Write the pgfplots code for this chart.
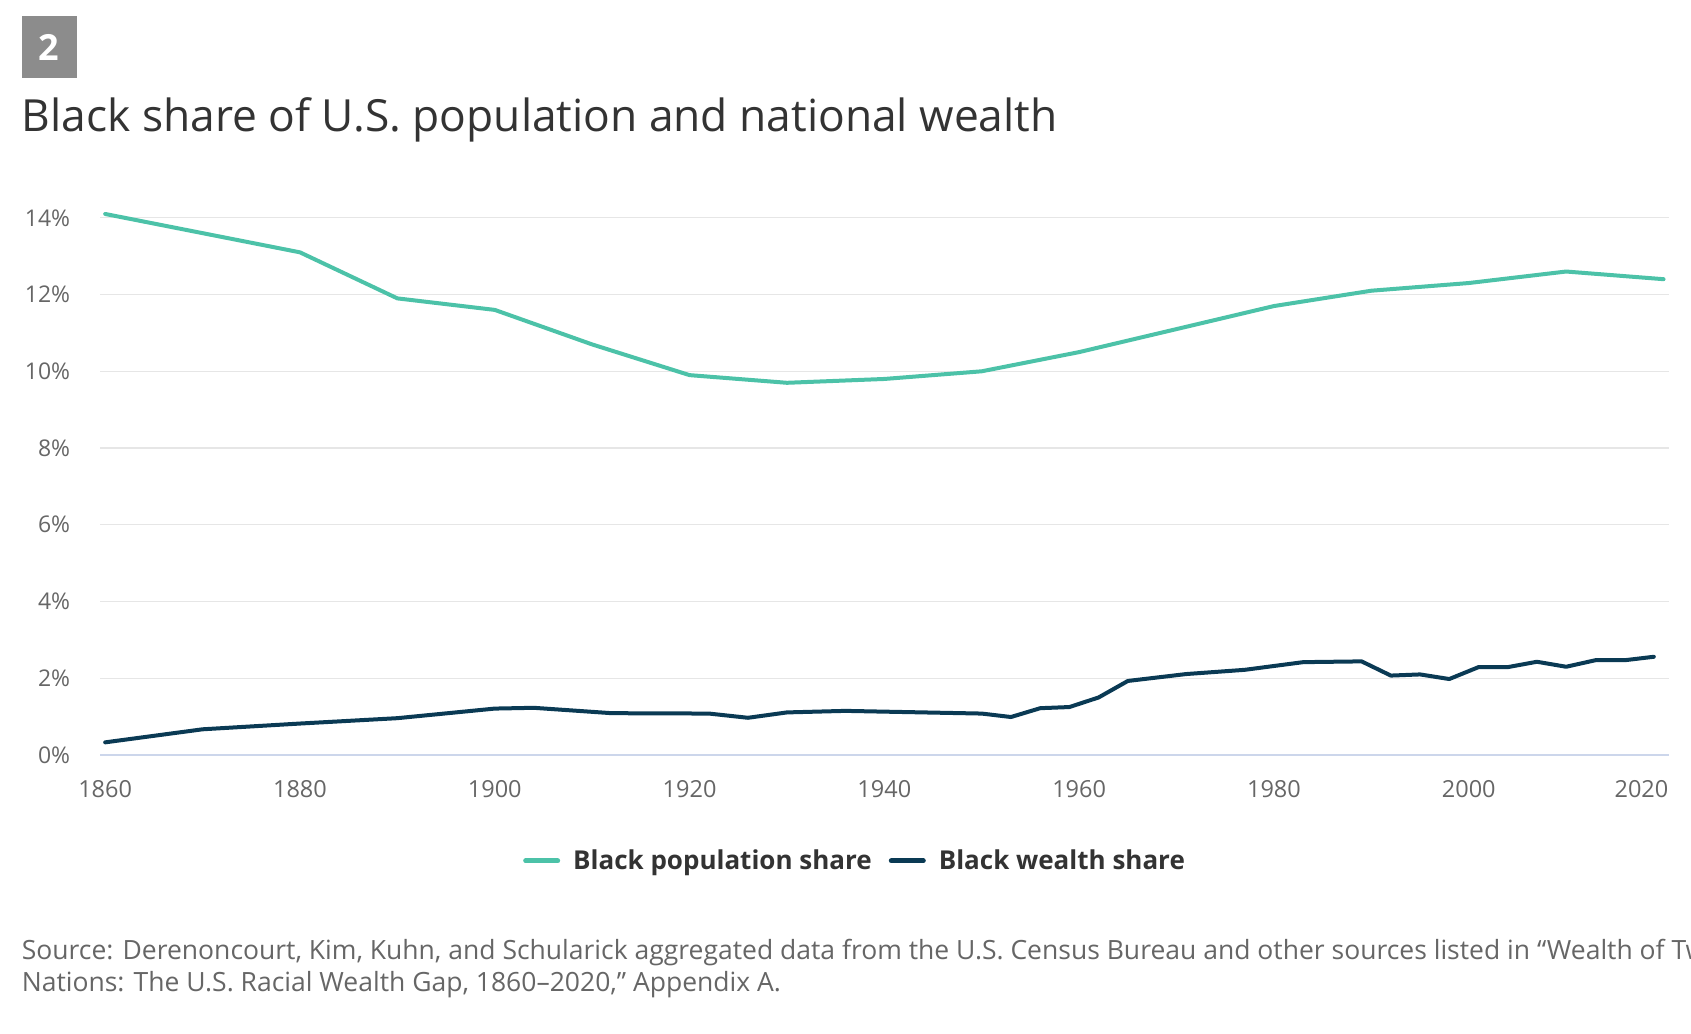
\documentclass[border=0pt]{standalone}
\usepackage{fontspec}
\setmainfont{Open Sans}
\usepackage{pgfplots}
\pgfplotsset{compat=1.18}
\definecolor{popc}{HTML}{4CC2A8}
\definecolor{wealthc}{HTML}{0A3A54}
\definecolor{boxgrey}{HTML}{8C8C8C}
\definecolor{titlec}{HTML}{333333}
\definecolor{labc}{HTML}{666666}
\definecolor{srcc}{HTML}{666666}
\definecolor{gridc}{HTML}{E6E6E6}
\definecolor{axisc}{HTML}{CCD6EB}
\begin{document}
\begin{tikzpicture}[x=1pt,y=1pt]
\path[use as bounding box] (0,0) rectangle (1691,-1033);
\fill[boxgrey] (21.6,-16.2) rectangle (76.6,-77.6);
\node[text=white, inner sep=0, font=\bfseries\fontsize{36}{36}\selectfont] at (49.1,-47) {2};
\node[anchor=base west, inner sep=0, text=titlec, font=\fontsize{44.3}{44.3}\selectfont] at (21.6,-131.6) {Black share of U.S. population and national wealth};
\begin{axis}[
  at={(100.3pt,-755pt)}, anchor=south west,
  scale only axis, width=1569.1pt, height=537.2pt,
  xmin=1859.5, xmax=2020.6, ymin=0, ymax=14,
  clip=false,
  axis lines*=left,
  x axis line style={draw=axisc, line width=1.2pt, -},
  y axis line style={draw=none},
  tick style={draw=none},
  major tick length=0pt,
  ytick={0,2,4,6,8,10,12,14},
  yticklabels={0\%,2\%,4\%,6\%,8\%,10\%,12\%,14\%},
  xtick={1860,1880,1900,1920,1940,1960,1980,2000},
  xticklabels={1860,1880,1900,1920,1940,1960,1980,2000},
  extra x ticks={2020},
  extra x tick labels={2020},
  extra x tick style={xticklabel style={anchor=north east, xshift=5pt}},
  ymajorgrids,
  major grid style={draw=gridc, line width=1.2pt},
  yticklabel style={anchor=east, inner sep=0pt, xshift=-30pt, text=labc, font=\fontsize{23}{23}\selectfont},
  xticklabel style={anchor=north, inner sep=0pt, yshift=-25pt, text=labc, font=\fontsize{23.5}{23.5}\selectfont},
  legend style={at={(0.481,-0.197)}, anchor=center, draw=none, fill=none,
    legend columns=2, font=\bfseries\fontsize{26}{26}\selectfont, text=titlec,
    /tikz/every odd column/.append style={column sep=11pt},
    /tikz/every even column/.append style={column sep=15pt},
    legend cell align=left},
  legend image code/.code={\draw[#1, line width=5pt] (0pt,0pt) -- (32pt,0pt);},
]
\addplot[popc, line width=4pt, line join=round, line cap=round] coordinates {
(1860,14.1) (1880,13.1) (1890,11.9) (1900,11.6) (1910,10.7) (1920,9.9)
(1930,9.7) (1940,9.8) (1950,10.0) (1960,10.5) (1970,11.1) (1980,11.7)
(1990,12.1) (2000,12.3) (2010,12.6) (2020,12.4)
};
\addlegendentry{Black population share}
\addplot[wealthc, line width=4pt, line join=round, line cap=round] coordinates {
(1860,0.33) (1870,0.67) (1880,0.82) (1890,0.96) (1900,1.21) (1904,1.23)
(1912,1.09) (1922,1.08) (1926,0.97) (1930,1.11) (1936,1.15) (1950,1.08)
(1953,0.99) (1956,1.22) (1959,1.25) (1962,1.50) (1965,1.93) (1968,2.02)
(1971,2.11) (1977,2.22) (1983,2.42) (1989,2.44) (1992,2.07) (1995,2.10)
(1998,1.98) (2001,2.29) (2004,2.29) (2007,2.43) (2010,2.30) (2013,2.47)
(2016,2.47) (2019,2.56)
};
\addlegendentry{Black wealth share}
\end{axis}
\node[anchor=base west, inner sep=0, text=srcc, font=\fontsize{26.5}{26.5}\selectfont] at (21.6,-959) {Source: Derenoncourt, Kim, Kuhn, and Schularick aggregated data from the U.S. Census Bureau and other sources listed in “Wealth of Two};
\node[anchor=base west, inner sep=0, text=srcc, font=\fontsize{26.5}{26.5}\selectfont] at (21.6,-991) {Nations: The U.S. Racial Wealth Gap, 1860–2020,” Appendix A.};
\end{tikzpicture}
\end{document}
